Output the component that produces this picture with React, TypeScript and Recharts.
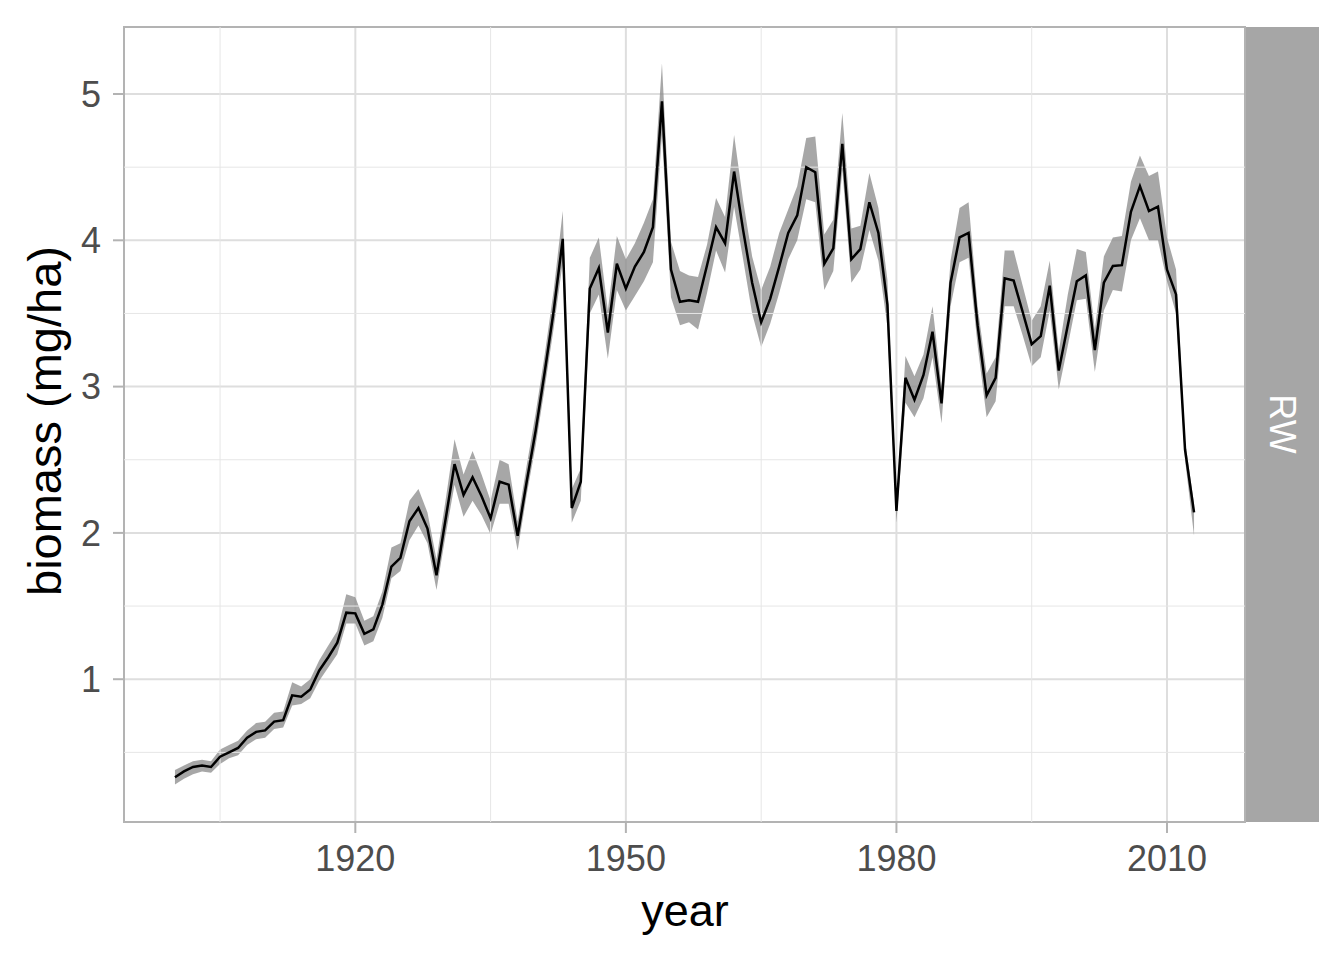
import {
  ComposedChart,
  Area,
  Line,
  XAxis,
  YAxis,
  CartesianGrid,
  ReferenceLine,
  ReferenceArea,
} from "recharts";

const years = [
  1900, 1901, 1902, 1903, 1904, 1905, 1906, 1907, 1908, 1909,
  1910, 1911, 1912, 1913, 1914, 1915, 1916, 1917, 1918, 1919,
  1920, 1921, 1922, 1923, 1924, 1925, 1926, 1927, 1928, 1929,
  1930, 1931, 1932, 1933, 1934, 1935, 1936, 1937, 1938, 1939,
  1940, 1941, 1942, 1943, 1944, 1945, 1946, 1947, 1948, 1949,
  1950, 1951, 1952, 1953, 1954, 1955, 1956, 1957, 1958, 1959,
  1960, 1961, 1962, 1963, 1964, 1965, 1966, 1967, 1968, 1969,
  1970, 1971, 1972, 1973, 1974, 1975, 1976, 1977, 1978, 1979,
  1980, 1981, 1982, 1983, 1984, 1985, 1986, 1987, 1988, 1989,
  1990, 1991, 1992, 1993, 1994, 1995, 1996, 1997, 1998, 1999,
  2000, 2001, 2002, 2003, 2004, 2005, 2006, 2007, 2008, 2009,
  2010, 2011, 2012, 2013,
];

const biomass = [
  0.33, 0.37, 0.4, 0.41, 0.4, 0.47, 0.5, 0.53, 0.6, 0.64,
  0.65, 0.71, 0.72, 0.89, 0.88, 0.93, 1.06, 1.15, 1.25, 1.455,
  1.45, 1.31, 1.34, 1.51, 1.77, 1.83, 2.08, 2.17, 2.03, 1.71,
  2.09, 2.47, 2.26, 2.38, 2.25, 2.1, 2.35, 2.33, 1.98, 2.35,
  2.7, 3.1, 3.52, 4.01, 2.17, 2.35, 3.67, 3.81, 3.37, 3.84,
  3.67, 3.82, 3.92, 4.09, 4.95, 3.8, 3.58, 3.59, 3.58, 3.83,
  4.09, 3.98, 4.47, 4.07, 3.71, 3.44, 3.6, 3.82, 4.05, 4.17,
  4.5, 4.465, 3.84, 3.945, 4.66, 3.87, 3.94, 4.26, 4.05, 3.56,
  2.15, 3.06, 2.91, 3.08, 3.375, 2.886, 3.71, 4.02, 4.05, 3.42,
  2.94, 3.06, 3.74, 3.725, 3.51, 3.29, 3.345, 3.69, 3.11, 3.42,
  3.72, 3.76, 3.25, 3.71, 3.825, 3.83, 4.195, 4.37, 4.2, 4.23,
  3.8, 3.63, 2.57, 2.14,
];

const lower = [
  0.28, 0.32, 0.35, 0.37, 0.36, 0.42, 0.46, 0.48, 0.55, 0.59,
  0.6, 0.66, 0.67, 0.82, 0.83, 0.87, 0.99, 1.08, 1.17, 1.38,
  1.38, 1.23, 1.26, 1.42, 1.69, 1.74, 1.95, 2.05, 1.93, 1.61,
  1.98, 2.33, 2.11, 2.22, 2.12, 1.99, 2.2, 2.2, 1.88, 2.26,
  2.6, 2.99, 3.4, 3.85, 2.07, 2.22, 3.5, 3.63, 3.19, 3.66,
  3.52, 3.62, 3.72, 3.85, 4.72, 3.61, 3.42, 3.44, 3.39, 3.64,
  3.93, 3.78, 4.23, 3.87, 3.5, 3.27, 3.43, 3.64, 3.87, 4.0,
  4.28, 4.26, 3.66, 3.79, 4.48, 3.71, 3.8, 4.07, 3.86, 3.41,
  2.07, 2.89, 2.79, 2.92, 3.2, 2.75, 3.55, 3.85, 3.88, 3.28,
  2.79, 2.9, 3.55, 3.55, 3.35, 3.14, 3.2, 3.52, 2.98, 3.28,
  3.59, 3.6, 3.1, 3.52, 3.66, 3.65, 4.0, 4.15, 4.0, 4.0,
  3.72, 3.5, 2.5, 1.98,
];

const upper = [
  0.38, 0.41, 0.44, 0.45, 0.44, 0.52, 0.55, 0.58, 0.65, 0.7,
  0.71, 0.77, 0.78, 0.98, 0.95, 1.0, 1.13, 1.23, 1.33, 1.58,
  1.56, 1.4, 1.43, 1.6, 1.9, 1.93, 2.22, 2.3, 2.14, 1.82,
  2.22, 2.64, 2.4, 2.56, 2.4, 2.22, 2.5, 2.47, 2.08, 2.46,
  2.82, 3.22, 3.66, 4.2, 2.3, 2.44, 3.88, 4.02, 3.52, 4.03,
  3.87, 3.98, 4.12, 4.28, 5.21, 3.99, 3.79, 3.76, 3.75, 3.97,
  4.29, 4.16, 4.72, 4.27, 3.89, 3.66, 3.82, 4.05, 4.21, 4.37,
  4.7, 4.71, 4.04, 4.14, 4.87, 4.08, 4.1, 4.46, 4.22, 3.73,
  2.2, 3.21, 3.07, 3.22, 3.55, 3.0, 3.86, 4.22, 4.26, 3.55,
  3.09, 3.2, 3.93, 3.93, 3.69, 3.45, 3.55, 3.86, 3.24, 3.63,
  3.94, 3.92, 3.39, 3.89, 4.02, 4.03, 4.4, 4.58, 4.44, 4.47,
  4.02, 3.8, 2.63, 2.2,
];

const xTicks = [1920, 1950, 1980, 2010];
const xMinor = [1905, 1935, 1965, 1995];
const yTicks = [1, 2, 3, 4, 5];
const yMinor = [0.5, 1.5, 2.5, 3.5, 4.5];

const FONT = "'Liberation Sans', Arial, Helvetica, sans-serif";
const X_DOMAIN: [number, number] = [1894.35, 2018.65];
const Y_DOMAIN: [number, number] = [0.024, 5.458];

export default function App() {
  const data = years.map((year, i) => ({
    year,
    biomass: biomass[i],
    band: [lower[i], upper[i]],
  }));

  const tickStyle = { fill: "#4d4d4d", fontSize: 36, fontFamily: FONT };
  const tickLine = { stroke: "#b3b3b3", strokeWidth: 2 };

  return (
    <div style={{ position: "absolute", left: 0, top: 0, width: 1344, height: 960, background: "#fff" }}>
      <ComposedChart
        width={1344}
        height={960}
        data={data}
        margin={{ top: 27, right: 99, bottom: 78, left: 24 }}
      >
        <CartesianGrid stroke="#dedede" strokeWidth={2} />
        {xMinor.map((x) => (
          <ReferenceLine key={"x" + x} x={x} stroke="#e6e6e6" strokeWidth={1} />
        ))}
        {yMinor.map((y) => (
          <ReferenceLine key={"y" + y} y={y} stroke="#e6e6e6" strokeWidth={1} />
        ))}
        <XAxis
          dataKey="year"
          type="number"
          domain={X_DOMAIN}
          ticks={xTicks}
          allowDataOverflow
          height={60}
          axisLine={false}
          tickLine={tickLine}
          tickSize={11}
          tickMargin={12}
          tick={tickStyle}
        />
        <YAxis
          type="number"
          domain={Y_DOMAIN}
          ticks={yTicks}
          allowDataOverflow
          width={100}
          axisLine={false}
          tickLine={tickLine}
          tickSize={11}
          tickMargin={12}
          tick={tickStyle}
        />
        <Area
          type="linear"
          dataKey="band"
          stroke="none"
          fill="#8a8a8a"
          fillOpacity={0.75}
          isAnimationActive={false}
        />
        <Line
          type="linear"
          dataKey="biomass"
          stroke="#000000"
          strokeWidth={2.5}
          dot={false}
          isAnimationActive={false}
        />
        <ReferenceArea
          x1={X_DOMAIN[0]}
          x2={X_DOMAIN[1]}
          y1={Y_DOMAIN[0]}
          y2={Y_DOMAIN[1]}
          fill="none"
          stroke="#b3b3b3"
          strokeWidth={2}
        />
      </ComposedChart>
      <svg
        width={1344}
        height={960}
        style={{ position: "absolute", left: 0, top: 0, pointerEvents: "none" }}
      >
        <rect x={1246} y={27} width={73} height={795} fill="#a6a6a6" />
        <text
          x={1282}
          y={424}
          fill="#ffffff"
          fontSize={36}
          fontFamily={FONT}
          textAnchor="middle"
          dominantBaseline="central"
          transform="rotate(90 1282 424)"
        >
          RW
        </text>
        <text
          x={685}
          y={926}
          fill="#000000"
          fontSize={45}
          fontFamily={FONT}
          textAnchor="middle"
        >
          year
        </text>
        <text
          x={61}
          y={421}
          fill="#000000"
          fontSize={47}
          fontFamily={FONT}
          textAnchor="middle"
          transform="rotate(-90 61 421)"
        >
          biomass (mg/ha)
        </text>
      </svg>
    </div>
  );
}
